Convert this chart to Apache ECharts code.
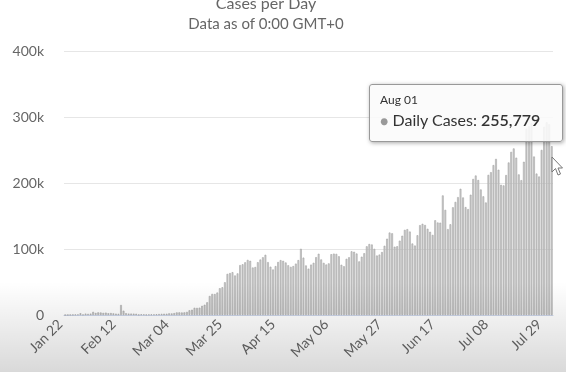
<!DOCTYPE html>
<html>
<head>
<meta charset="utf-8">
<script src="https://cdn.jsdelivr.net/npm/echarts@6/dist/echarts.min.js"></script>
<style>
html,body{margin:0;padding:0;background:#fff;}
#c{width:566px;height:372px;}
</style>
</head>
<body>
<div id="c"></div>
<script>
// Daily new cases by month (2020)
var janCases = [0, 100, 287, 493, 684, 809, 2651, 588, 2068, 1693]; // Jan 22 - Jan 31
var febCases = [2111, 4749, 3094, 4011, 3743, 3159, 3597, 2653, 2984, 2473, 2022, 1820, 15141, 6526, 2663, 2097, 2132, 2036, 1890, 549, 1095, 1016, 598, 767, 976, 1001, 1159, 1430, 1732];
var marCases = [1862, 1898, 2524, 2305, 2889, 3949, 4007, 3813, 4027, 4710, 7161, 8014, 10934, 10754, 11117, 13907, 15590, 19270, 28876, 31993, 31800, 34017, 40606, 41980, 49635, 62301, 63559, 64906, 59920, 63015, 75640];
var aprCases = [76893, 79847, 83512, 82105, 71906, 72788, 80036, 84034, 87474, 91267, 80145, 73208, 68950, 74120, 80337, 83180, 82106, 79564, 75340, 72960, 74215, 77904, 83266, 100318, 86942, 75112, 70248, 76391, 79102, 87654];
var mayCases = [92815, 84210, 79034, 76455, 78230, 92104, 93018, 92640, 88975, 76120, 73890, 85147, 87466, 96512, 95830, 93104, 81245, 88390, 93610, 104120, 107560, 106830, 100245, 90118, 91560, 95420, 104880, 115630, 124950, 123810, 103520];
var junCases = [104210, 112650, 120140, 129030, 130150, 126420, 108310, 105220, 120870, 136150, 138210, 136430, 130620, 126040, 121380, 143560, 140120, 139890, 181230, 159340, 130180, 137450, 163210, 171380, 178640, 191250, 178120, 163540, 160470, 182310];
var julCases = [206120, 211340, 204560, 190210, 179830, 170480, 212310, 216420, 227180, 236510, 220140, 197260, 196380, 212040, 231120, 247210, 252360, 238410, 213050, 204350, 232180, 282460, 286120, 290370, 240150, 214320, 209870, 250130, 285340, 292150, 289160];
var augCases = [255779];

var monthNames = ['Jan', 'Feb', 'Mar', 'Apr', 'May', 'Jun', 'Jul', 'Aug'];
var monthSeries = [janCases, febCases, marCases, aprCases, mayCases, junCases, julCases, augCases];
var monthFirstDay = [22, 1, 1, 1, 1, 1, 1, 1];

var yTicks = [0, 100000, 200000, 300000, 400000];

var categories = [];
var values = [];
monthSeries.forEach(function (arr, m) {
  arr.forEach(function (v, i) {
    var d = monthFirstDay[m] + i;
    categories.push(monthNames[m] + ' ' + (d < 10 ? '0' + d : d));
    values.push(v);
  });
});

var FONT = 'Lato, "Open Sans", sans-serif';
var chart = echarts.init(document.getElementById('c'), null, {renderer: 'canvas'});
var option = {
  animation: false,
  backgroundColor: '#ffffff',
  title: {
    text: 'Cases per Day',
    subtext: 'Data as of 0:00 GMT+0',
    left: 261,
    textAlign: 'center',
    top: -9,
    itemGap: 5,
    textStyle: {fontSize: 16, color: '#666', fontWeight: 'normal', fontFamily: FONT},
    subtextStyle: {fontSize: 15, color: '#666', fontFamily: FONT}
  },
  grid: {left: 64, right: 13, top: 51, bottom: 57},
  xAxis: {
    type: 'category',
    data: categories,
    axisLine: {lineStyle: {color: '#ccd6eb'}},
    axisTick: {show: false},
    axisLabel: {rotate: 45, interval: 20, color: '#666', fontSize: 14, fontFamily: FONT, margin: 2, padding: [0, 7, 0, 0]}
  },
  yAxis: {
    type: 'value',
    min: yTicks[0],
    max: yTicks[yTicks.length - 1],
    interval: yTicks[1] - yTicks[0],
    axisLine: {show: false},
    axisTick: {show: false},
    splitLine: {lineStyle: {color: '#e6e6e6'}},
    axisLabel: {
      color: '#666', fontSize: 14, fontFamily: FONT, margin: 20,
      formatter: function (v) { return v === 0 ? '0' : (v / 1000) + 'k'; }
    }
  },
  tooltip: {
    trigger: 'item',
    alwaysShowContent: true,
    transitionDuration: 0,
    position: [369, 84],
    backgroundColor: 'rgba(250,250,250,0.88)',
    borderColor: '#999',
    borderWidth: 1,
    padding: [7, 10, 8, 10],
    extraCssText: 'box-shadow:1px 1px 4px rgba(0,0,0,0.35);border-radius:3px;width:172px;',
    formatter: function (p) {
      return '<div style="font-family:' + FONT.replace(/"/g, "'") + ';color:#333;">' +
        '<div style="font-size:12px;line-height:16px;">' + p.name + '</div>' +
        '<div style="font-size:16px;line-height:24px;white-space:nowrap;">' +
        '<span style="color:#999;font-size:14px;">\u25CF</span> Daily Cases: <b style="font-weight:600;">' +
        p.value.toLocaleString('en-US') + '</b></div></div>';
    }
  },
  series: [{
    type: 'bar',
    name: 'Daily Cases',
    data: values,
    barCategoryGap: '30%',
    itemStyle: {color: '#cdcdcd', borderColor: '#a2a2a2', borderWidth: 0.6},
    emphasis: {disabled: true}
  }],
  graphic: [
    {
      type: 'rect', silent: true, z: 100,
      shape: {x: 0, y: 282, width: 566, height: 90},
      style: {
        fill: new echarts.graphic.LinearGradient(0, 0, 0, 1, [
          {offset: 0, color: 'rgba(0,0,0,0)'},
          {offset: 1, color: 'rgba(0,0,0,0.15)'}
        ])
      }
    },
    {
      type: 'polygon', silent: true, z: 101,
      shape: {points: [[552, 157], [552, 172], [555.5, 168.5], [558, 175], [560.5, 174], [558, 168], [562.5, 168]]},
      style: {fill: '#fff', stroke: '#777', lineWidth: 1}
    }
  ]
};
chart.setOption(option);
chart.dispatchAction({type: 'showTip', seriesIndex: 0, dataIndex: values.length - 1});
</script>
</body>
</html>
